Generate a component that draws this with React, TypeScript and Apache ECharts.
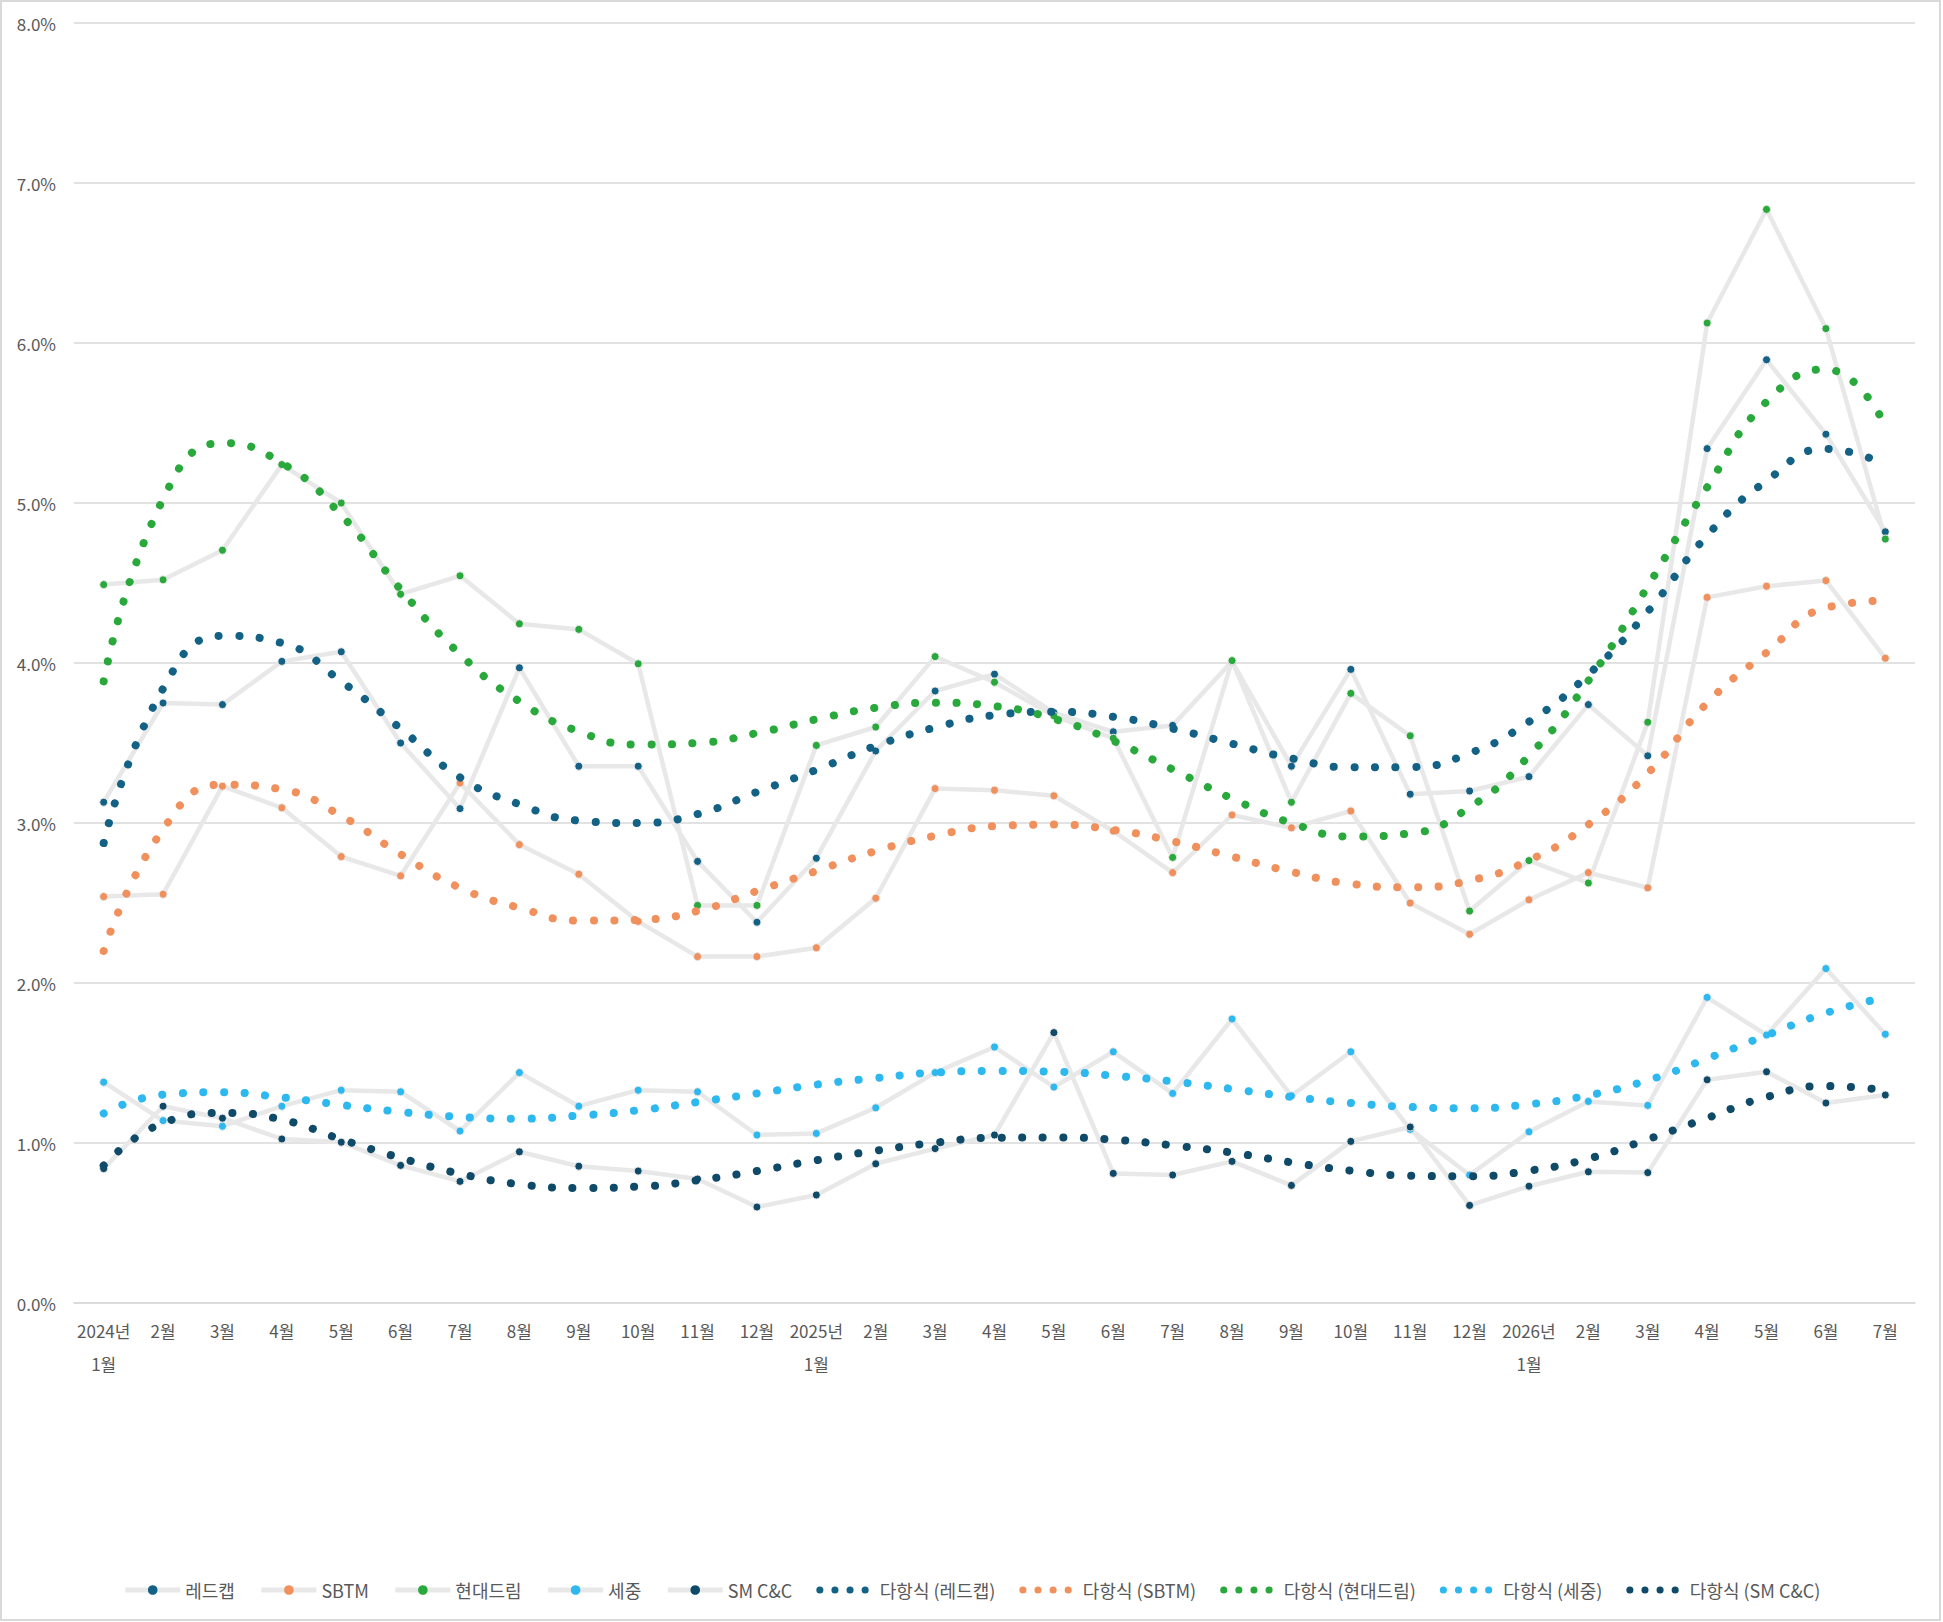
import React, { useEffect, useRef } from "react";
import * as echarts from "echarts";

const monthKeys = [
  "2024-01", "2024-02", "2024-03", "2024-04", "2024-05", "2024-06", "2024-07", "2024-08", "2024-09", "2024-10", "2024-11", "2024-12",
  "2025-01", "2025-02", "2025-03", "2025-04", "2025-05", "2025-06", "2025-07", "2025-08", "2025-09", "2025-10", "2025-11", "2025-12",
  "2026-01", "2026-02", "2026-03", "2026-04", "2026-05", "2026-06", "2026-07",
];
const monthLabels = [
  "2024년\n1월", "2월", "3월", "4월", "5월", "6월", "7월", "8월", "9월", "10월", "11월", "12월",
  "2025년\n1월", "2월", "3월", "4월", "5월", "6월", "7월", "8월", "9월", "10월", "11월", "12월",
  "2026년\n1월", "2월", "3월", "4월", "5월", "6월", "7월",
];

const seriesNames = ["레드캡", "SBTM", "현대드림", "세중", "SM C&C"];
const trendNames = ["다항식 (레드캡)", "다항식 (SBTM)", "다항식 (현대드림)", "다항식 (세중)", "다항식 (SM C&C)"];
const seriesColors = ["#136184", "#EF905D", "#29A83B", "#2DB8EF", "#104A69"];

const redcap = [3.13, 3.75, 3.74, 4.01, 4.07, 3.5, 3.09, 3.97, 3.355, 3.355, 2.76, 2.38, 2.78, 3.45, 3.825, 3.93, 3.69, 3.57, 3.61, 4.01, 3.355, 3.96, 3.18, 3.2, 3.29, 3.74, 3.42, 5.34, 5.895, 5.43, 4.82];
const sbtm = [2.54, 2.555, 3.23, 3.095, 2.79, 2.67, 3.25, 2.865, 2.68, 2.385, 2.165, 2.165, 2.22, 2.53, 3.215, 3.205, 3.17, 2.95, 2.69, 3.05, 2.97, 3.075, 2.5, 2.305, 2.52, 2.69, 2.595, 4.41, 4.48, 4.515, 4.03];
const hyundai = [4.49, 4.52, 4.705, 5.24, 5.0, 4.43, 4.545, 4.245, 4.21, 3.995, 2.485, 2.485, 3.485, 3.6, 4.04, 3.88, 3.67, 3.53, 2.785, 4.015, 3.13, 3.81, 3.545, 2.45, 2.765, 2.625, 3.63, 6.125, 6.835, 6.09, 4.775];
const sejung = [1.38, 1.14, 1.105, 1.23, 1.33, 1.32, 1.075, 1.44, 1.23, 1.33, 1.32, 1.05, 1.06, 1.22, 1.44, 1.6, 1.35, 1.57, 1.31, 1.775, 1.295, 1.57, 1.085, 0.8, 1.07, 1.26, 1.235, 1.91, 1.675, 2.09, 1.68];
const smcc = [0.84, 1.23, 1.155, 1.025, 1.005, 0.86, 0.76, 0.945, 0.855, 0.825, 0.775, 0.6, 0.675, 0.87, 0.965, 1.05, 1.69, 0.81, 0.8, 0.885, 0.735, 1.01, 1.1, 0.61, 0.73, 0.82, 0.815, 1.395, 1.445, 1.25, 1.3];

const redcapTrend = [2.875, 3.84, 4.17, 4.125, 3.885, 3.59, 3.285, 3.117, 3.015, 3.0, 3.056, 3.194, 3.332, 3.482, 3.597, 3.674, 3.695, 3.664, 3.59, 3.496, 3.404, 3.348, 3.35, 3.436, 3.633, 3.928, 4.321, 4.797, 5.138, 5.338, 5.24];
const sbtmTrend = [2.2, 2.96, 3.24, 3.21, 3.045, 2.805, 2.595, 2.47, 2.39, 2.395, 2.45, 2.575, 2.7, 2.825, 2.92, 2.98, 2.99, 2.957, 2.886, 2.79, 2.695, 2.62, 2.598, 2.64, 2.767, 2.99, 3.31, 3.75, 4.065, 4.345, 4.39];
const hyundaiTrend = [3.885, 5.025, 5.375, 5.25, 4.925, 4.46, 4.055, 3.76, 3.572, 3.49, 3.5, 3.562, 3.648, 3.72, 3.752, 3.73, 3.651, 3.513, 3.335, 3.153, 3.0, 2.915, 2.935, 3.098, 3.42, 3.889, 4.479, 5.098, 5.633, 5.836, 5.485];
const sejungTrend = [1.185, 1.302, 1.317, 1.285, 1.238, 1.194, 1.163, 1.152, 1.171, 1.204, 1.256, 1.31, 1.365, 1.406, 1.44, 1.45, 1.446, 1.421, 1.385, 1.338, 1.288, 1.25, 1.225, 1.217, 1.242, 1.298, 1.392, 1.527, 1.673, 1.8125, 1.91];
const smccTrend = [0.86, 1.125, 1.1875, 1.146, 1.023, 0.906, 0.808, 0.742, 0.719, 0.727, 0.767, 0.825, 0.892, 0.952, 1.002, 1.033, 1.035, 1.021, 0.985, 0.94, 0.879, 0.827, 0.796, 0.792, 0.827, 0.902, 1.023, 1.156, 1.2875, 1.356, 1.329];

const dataValues = [redcap, sbtm, hyundai, sejung, smcc];
const trendValues = [redcapTrend, sbtmTrend, hyundaiTrend, sejungTrend, smccTrend];

const FONT = '"Noto Sans CJK KR", "Noto Sans", sans-serif';
const LABEL_COLOR = "#595959";
const GRID_COLOR = "#D9D9D9";
const DATA_LINE = "#E8E8E8";

export default function App() {
  const ref = useRef<HTMLDivElement>(null);

  useEffect(() => {
    if (!ref.current) return;
    const chart = echarts.init(ref.current, null, { renderer: "svg" });

    const dataSeries = seriesNames.map((name, k) => ({
      name,
      type: "line",
      data: dataValues[k],
      symbol: "circle",
      symbolSize: 8,
      showSymbol: true,
      z: 2,
      lineStyle: { color: DATA_LINE, width: 4.5, join: "round" },
      itemStyle: { color: seriesColors[k], borderColor: DATA_LINE, borderWidth: 1 },
      emphasis: { disabled: true },
    }));

    const trendSeries = trendNames.map((name, k) => ({
      name,
      type: "line",
      data: trendValues[k],
      smooth: 0.5,
      symbol: "none",
      showSymbol: false,
      z: 3,
      lineStyle: { color: seriesColors[k], width: 8, type: [0.1, 20.5], cap: "round" },
      itemStyle: { color: seriesColors[k] },
      emphasis: { disabled: true },
    }));

    const legendData = [
      ...seriesNames.map((name) => ({
        name,
        lineStyle: { width: 5, color: DATA_LINE },
        itemStyle: { borderWidth: 0 },
      })),
      ...trendNames.map((name) => ({
        name,
        itemStyle: { opacity: 0 },
        lineStyle: { type: [0.1, 15], width: 7, cap: "round" },
      })),
    ];

    chart.setOption({
      animation: false,
      backgroundColor: "#ffffff",
      textStyle: { fontFamily: FONT },
      grid: { left: 74, right: 28, top: 23, bottom: 319, containLabel: false },
      legend: {
        data: legendData,
        left: "center",
        top: 1576,
        itemWidth: 55,
        itemHeight: 12,
        itemGap: 24,
        textStyle: { color: LABEL_COLOR, fontSize: 18, fontFamily: FONT },
      },
      xAxis: {
        type: "category",
        data: monthKeys,
        boundaryGap: true,
        axisLine: { show: true, lineStyle: { color: GRID_COLOR, width: 1.5 } },
        axisTick: { show: false },
        axisLabel: {
          interval: 0,
          margin: 11,
          color: LABEL_COLOR,
          fontSize: 17,
          lineHeight: 33,
          fontFamily: FONT,
          formatter: (_v: string, i: number) => monthLabels[i],
        },
        splitLine: { show: false },
      },
      yAxis: {
        type: "value",
        min: 0,
        max: 8,
        interval: 1,
        axisLine: { show: false },
        axisTick: { show: false },
        axisLabel: {
          margin: 18,
          color: LABEL_COLOR,
          fontSize: 17,
          fontFamily: FONT,
          formatter: (v: number) => v.toFixed(1) + "%",
        },
        splitLine: { show: true, lineStyle: { color: GRID_COLOR, width: 1.5 } },
      },
      series: [...dataSeries, ...trendSeries],
    });

    return () => {
      chart.dispose();
    };
  }, []);

  return (
    <>
      <div
        ref={ref}
        style={{ position: "absolute", left: 0, top: 0, width: 1943, height: 1622, background: "#ffffff" }}
      />
      <div
        style={{
          position: "absolute",
          left: 0,
          top: 0,
          width: 1941,
          height: 1621,
          boxSizing: "border-box",
          border: "2px solid #D9D9D9",
          pointerEvents: "none",
        }}
      />
    </>
  );
}
